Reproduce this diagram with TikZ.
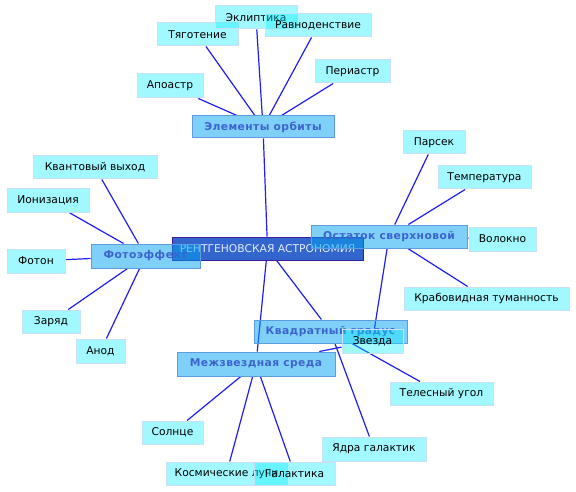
\documentclass[tikz,border=0pt]{standalone}
\usepackage{fontspec}
\setmainfont{DejaVu Sans}
\newfontfamily\hdfont[LetterSpace=4,BoldFont={DejaVu Sans Bold}]{DejaVu Sans}
\usetikzlibrary{backgrounds}
\definecolor{leafc}{RGB}{0,236,255}
\definecolor{leafb}{RGB}{200,225,248}
\definecolor{hdc}{RGB}{0,161,241}
\definecolor{hdb}{RGB}{95,155,225}
\definecolor{hdt}{RGB}{60,100,205}
\definecolor{ctrc}{RGB}{51,102,204}
\definecolor{ctrb}{RGB}{60,30,160}
\definecolor{ctrt}{RGB}{225,235,255}
\definecolor{edgec}{RGB}{30,30,245}
\tikzset{
  box/.style={inner sep=0pt, line width=1pt, text opacity=1, align=center},
  leaf/.style={box, fill=leafc, fill opacity=0.37, draw=leafb, text=black,
    font=\fontsize{10.7}{12}\selectfont},
  hd/.style={box, fill=hdc, fill opacity=0.5, draw=hdb, text=hdt,
    font=\fontsize{10.7}{12}\selectfont\hdfont\bfseries},
  ctrbox/.style={box, fill=ctrc, draw=ctrb, text=ctrt,
    font=\fontsize{10.7}{12}\selectfont},
  edge/.style={draw=edgec, line width=1.2pt},
  sz/.style 2 args={minimum width=#1pt, minimum height=#2pt}
}
\begin{document}
\begin{tikzpicture}[x=1pt,y=-1pt]
\useasboundingbox (0,0) rectangle (576,492);
% centre
\node[ctrbox, sz={191}{23}] (ctr) at (267.5,248.5) {РЕНТГЕНОВСКАЯ АСТРОНОМИЯ};
% headers
\node[hd, sz={142}{22}] (orb) at (263,127) {Элементы орбиты};
\node[hd, sz={109}{24}] (foto) at (145.5,256) {Фотоэффект};
\node[hd, sz={156}{23}] (ost) at (389,236.5) {Остаток сверхновой};
\node[hd, sz={153}{23}] (kvad) at (330.5,331.5) {Квадратный градус};
\node[hd, sz={158}{24}] (mezh) at (256,364) {Межзвездная среда};
% leaves
\node[leaf, sz={81}{23}] (tyag) at (197.5,34.5) {Тяготение};
\node[leaf, sz={82}{23}] (eklip) at (256,17.5) {Эклиптика};
\node[leaf, sz={106}{23}] (ravn) at (318,25.5) {Равноденствие};
\node[leaf, sz={66}{24}] (apo) at (170,86) {Апоастр};
\node[leaf, sz={75}{23}] (peri) at (352.5,71.5) {Периастр};
\node[leaf, sz={124}{23}] (kvant) at (95,167.5) {Квантовый выход};
\node[leaf, sz={82}{23}] (ion) at (48,200.5) {Ионизация};
\node[leaf, sz={58}{24}] (foton) at (36,261) {Фотон};
\node[leaf, sz={58}{23}] (zar) at (51,321.5) {Заряд};
\node[leaf, sz={49}{24}] (anod) at (100.5,351) {Анод};
\node[leaf, sz={62}{23}] (pars) at (434,142.5) {Парсек};
\node[leaf, sz={93}{23}] (temp) at (484.5,177.5) {Температура};
\node[leaf, sz={67}{24}] (volo) at (502.5,239) {Волокно};
\node[leaf, sz={165}{23}] (krab) at (486.5,298.5) {Крабовидная туманность};
\node[leaf, sz={61}{24}] (zvez) at (372.5,341) {Звезда};
\node[leaf, sz={103}{23}] (tele) at (441.5,393.5) {Телесный угол};
\node[leaf, sz={61}{23}] (soln) at (172.5,432.5) {Солнце};
\node[leaf, sz={104}{24}] (yadra) at (374,449) {Ядра галактик};
\node[leaf, sz={121}{23}] (kosm) at (226.5,473.5) {Космические лучи};
\node[leaf, sz={81}{23}] (gal) at (294.5,473.5) {Галактика};
% connectors
\begin{pgfonlayer}{background}
\draw[edge] (ctr) -- (orb);
\draw[edge] (ctr) -- (kvad);
\draw[edge] (ctr) -- (mezh);
\draw[edge] (orb) -- (apo);
\draw[edge] (orb) -- (tyag);
\draw[edge] (orb) -- (eklip);
\draw[edge] (orb) -- (ravn);
\draw[edge] (orb) -- (peri);
\draw[edge] (foto) -- (kvant);
\draw[edge] (foto) -- (ion);
\draw[edge] (foto) -- (foton);
\draw[edge] (foto) -- (zar);
\draw[edge] (foto) -- (anod);
\draw[edge] (ost) -- (pars);
\draw[edge] (ost) -- (temp);
\draw[edge] (ost) -- (volo);
\draw[edge] (ost) -- (krab);
\draw[edge] (ost) -- (zvez);
\draw[edge] (kvad) -- (tele);
\draw[edge] (kvad) -- (yadra);
\draw[edge] (mezh) -- (zvez);
\draw[edge] (mezh) -- (soln);
\draw[edge] (mezh) -- (kosm);
\draw[edge] (mezh) -- (gal);
\end{pgfonlayer}
\end{tikzpicture}
\end{document}
